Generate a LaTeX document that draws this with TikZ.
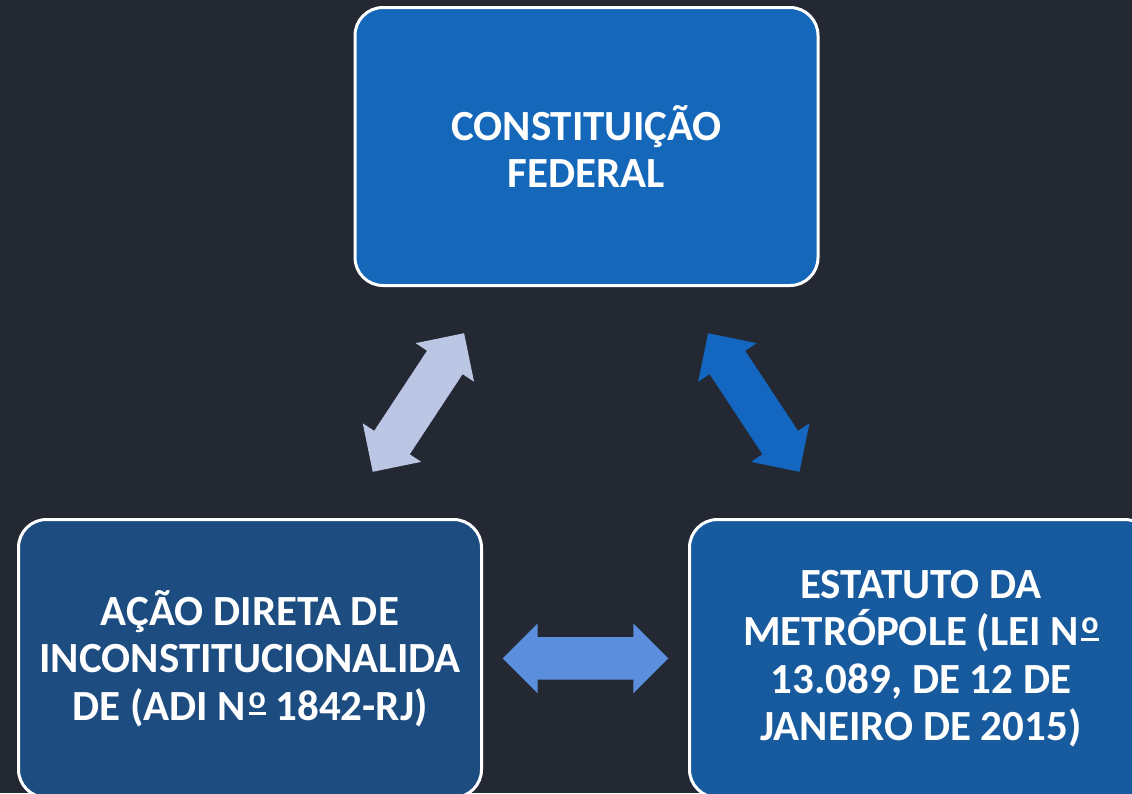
\documentclass[tikz,border=0pt]{standalone}
\usepackage{fontspec}
\setmainfont{Carlito}
\definecolor{bg}{RGB}{35,40,51}
\definecolor{topfill}{RGB}{20,103,185}
\definecolor{leftfill}{RGB}{28,76,128}
\definecolor{rightfill}{RGB}{24,90,158}
\definecolor{arrowL}{RGB}{187,198,228}
\definecolor{arrowR}{RGB}{19,103,192}
\definecolor{arrowB}{RGB}{91,142,220}
\newsavebox{\ordbox}
\newcommand{\ordo}{\sbox{\ordbox}{\fontsize{32}{32}\selectfont\bfseries o}\kern2.5pt\raisebox{12pt}{\rlap{\rule[-7pt]{\wd\ordbox}{3pt}}\usebox{\ordbox}}}
\tikzset{
  card/.style={draw=white, line width=3pt, rounded corners=28pt,
    minimum width=463pt, minimum height=278pt, align=center, text=white,
    font=\bfseries\fontsize{43}{47.5}\selectfont, inner sep=0pt}
}
\newcommand{\dblarrow}[4]{% center, angle, length, colour
  \fill[#4, shift={#1}, rotate=#2]
    (-#3/2,0) -- (-#3/2+35,35) -- (-#3/2+35,21.3) -- (#3/2-35,21.3) -- (#3/2-35,35)
    -- (#3/2,0) -- (#3/2-35,-35) -- (#3/2-35,-21.3) -- (-#3/2+35,-21.3) -- (-#3/2+35,-35) -- cycle;
}
\begin{document}
\begin{tikzpicture}[x=1pt,y=-1pt]
\useasboundingbox (0,0) rectangle (1132,793);
\clip (0,0) rectangle (1132,793);
\fill[bg] (0,0) rectangle (1132,793);
\node[card, fill=topfill] (cf) at (586.5,146.5) {CONSTITUIÇÃO\\FEDERAL};
\node[card, fill=leftfill] (adi) at (250,658.5) {AÇÃO DIRETA DE\\INCONSTITUCIONALIDA\\DE (ADI N\ordo{} 1842-RJ)};
\node[card, fill=rightfill] (em) at (921,658.5) {ESTATUTO DA\\METRÓPOLE (LEI N\ordo\\13.089, DE 12 DE\\JANEIRO DE 2015)};
\coordinate (aL) at (418.4,402.5);
\coordinate (aR) at (753.8,402.5);
\coordinate (aB) at (585.5,658.3);
\dblarrow{(aL)}{56.6}{166}{arrowL}
\dblarrow{(aR)}{123.4}{166}{arrowR}
\dblarrow{(aB)}{0}{165.6}{arrowB}
\end{tikzpicture}
\end{document}
